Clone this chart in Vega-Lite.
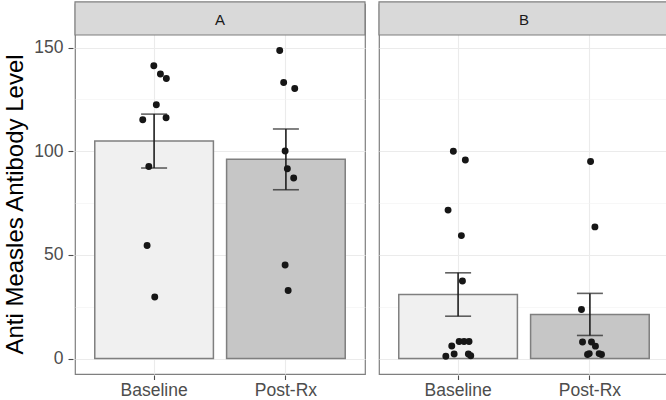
{
  "$schema": "https://vega.github.io/schema/vega-lite/v6.json",
  "background": "white",
  "padding": {"left": 3, "top": 0, "right": 0, "bottom": 0},
  "data": {"values": [
    {"group": "A", "time": "Baseline", "level": 141.2, "jit": -0.002},
    {"group": "A", "time": "Baseline", "level": 137.2, "jit": 0.048},
    {"group": "A", "time": "Baseline", "level": 135.1, "jit": 0.093},
    {"group": "A", "time": "Baseline", "level": 122.4, "jit": 0.017},
    {"group": "A", "time": "Baseline", "level": 115.2, "jit": -0.086},
    {"group": "A", "time": "Baseline", "level": 116.1, "jit": 0.091},
    {"group": "A", "time": "Baseline", "level": 92.6, "jit": -0.04},
    {"group": "A", "time": "Baseline", "level": 54.5, "jit": -0.053},
    {"group": "A", "time": "Baseline", "level": 29.7, "jit": 0.005},
    {"group": "A", "time": "Post-Rx", "level": 148.6, "jit": -0.047},
    {"group": "A", "time": "Post-Rx", "level": 133.1, "jit": -0.017},
    {"group": "A", "time": "Post-Rx", "level": 130.2, "jit": 0.067},
    {"group": "A", "time": "Post-Rx", "level": 100.1, "jit": -0.006},
    {"group": "A", "time": "Post-Rx", "level": 91.5, "jit": 0.011},
    {"group": "A", "time": "Post-Rx", "level": 87.1, "jit": 0.059},
    {"group": "A", "time": "Post-Rx", "level": 45.1, "jit": -0.006},
    {"group": "A", "time": "Post-Rx", "level": 32.8, "jit": 0.017},
    {"group": "B", "time": "Baseline", "level": 100.0, "jit": -0.036},
    {"group": "B", "time": "Baseline", "level": 95.8, "jit": 0.055},
    {"group": "B", "time": "Baseline", "level": 71.6, "jit": -0.076},
    {"group": "B", "time": "Baseline", "level": 59.3, "jit": 0.025},
    {"group": "B", "time": "Baseline", "level": 37.4, "jit": 0.033},
    {"group": "B", "time": "Baseline", "level": 8.2, "jit": 0.008},
    {"group": "B", "time": "Baseline", "level": 8.2, "jit": 0.045},
    {"group": "B", "time": "Baseline", "level": 8.2, "jit": 0.083},
    {"group": "B", "time": "Baseline", "level": 6.1, "jit": -0.048},
    {"group": "B", "time": "Baseline", "level": 2.2, "jit": -0.03},
    {"group": "B", "time": "Baseline", "level": 1.1, "jit": -0.093},
    {"group": "B", "time": "Baseline", "level": 2.2, "jit": 0.078},
    {"group": "B", "time": "Baseline", "level": 1.4, "jit": 0.096},
    {"group": "B", "time": "Post-Rx", "level": 95.0, "jit": 0.005},
    {"group": "B", "time": "Post-Rx", "level": 63.5, "jit": 0.038},
    {"group": "B", "time": "Post-Rx", "level": 23.7, "jit": -0.064},
    {"group": "B", "time": "Post-Rx", "level": 8.0, "jit": -0.056},
    {"group": "B", "time": "Post-Rx", "level": 8.0, "jit": 0.012},
    {"group": "B", "time": "Post-Rx", "level": 6.0, "jit": 0.042},
    {"group": "B", "time": "Post-Rx", "level": 2.0, "jit": -0.018},
    {"group": "B", "time": "Post-Rx", "level": 2.0, "jit": 0.088},
    {"group": "B", "time": "Post-Rx", "level": 2.4, "jit": -0.005},
    {"group": "B", "time": "Post-Rx", "level": 2.4, "jit": 0.07}
  ]},
  "facet": {"column": {"field": "group", "type": "nominal", "header": null}},
  "spacing": 10,
  "spec": {
    "width": 290,
    "height": 370,
    "resolve": {"scale": {"xOffset": "independent"}},
    "layer": [
      {
        "mark": {"type": "bar", "stroke": "#7F7F7F", "strokeWidth": 1.5},
        "encoding": {
          "x": {"field": "time", "type": "nominal", "title": null,
                "scale": {"paddingInner": 0.1, "paddingOuter": 0.15},
                "axis": {"grid": true, "bandPosition": 0.5, "labelAngle": 0, "gridWidth": 1.1, "tickSize": 4.5, "labelPadding": 2}},
          "y": {"aggregate": "mean", "field": "level", "type": "quantitative", "title": "Anti Measles Antibody Level",
                "scale": {"domain": [-7.43, 170.98], "nice": false, "zero": false},
                "axis": {
                  "values": [0, 25, 50, 75, 100, 125, 150],
                  "labelExpr": "datum.value % 50 === 0 ? datum.label : ''",
                  "tickOpacity": {"condition": {"test": "datum.value % 50 === 0", "value": 1}, "value": 0},
                  "gridWidth": {"condition": {"test": "datum.value % 50 === 0", "value": 1.1}, "value": 0.6},
                  "gridColor": {"condition": {"test": "datum.value % 50 === 0", "value": "#EBEBEB"}, "value": "#F2F2F2"},
                  "titlePadding": 6,
                  "titleFontSize": 24,
                  "titleY": 200,
                  "grid": true
                }},
          "fill": {"field": "time", "type": "nominal",
                   "scale": {"domain": ["Baseline", "Post-Rx"], "range": ["#F0F0F0", "#C6C6C6"]},
                   "legend": null}
        }
      },
      {
        "mark": {"type": "errorbar", "extent": "stderr", "color": "#1F1F1F", "thickness": 1.6, "ticks": {"size": 26}},
        "encoding": {
          "x": {"field": "time", "type": "nominal", "title": null},
          "y": {"field": "level", "type": "quantitative", "title": "Anti Measles Antibody Level"}
        }
      },
      {
        "mark": {"type": "circle", "size": 48, "color": "#161616", "opacity": 1},
        "encoding": {
          "x": {"field": "time", "type": "nominal", "title": null},
          "xOffset": {"field": "jit", "type": "quantitative", "scale": {"domain": [-0.45, 0.45]}},
          "y": {"field": "level", "type": "quantitative", "title": "Anti Measles Antibody Level"}
        }
      },
      {
        "transform": [{"aggregate": [{"op": "count", "as": "n"}], "groupby": ["group"]}],
        "mark": {"type": "rect", "fill": "#D9D9D9", "stroke": "#7F7F7F", "strokeWidth": 1.2},
        "encoding": {
          "y": {"datum": 156.03, "type": "quantitative", "title": "Anti Measles Antibody Level"},
          "y2": {"datum": 172}
        }
      },
      {
        "transform": [{"aggregate": [{"op": "count", "as": "n"}], "groupby": ["group"]}],
        "mark": {"type": "text", "fontSize": 15, "color": "#1A1A1A", "font": "Liberation Sans", "baseline": "middle", "align": "center"},
        "encoding": {
          "y": {"datum": 163.5, "type": "quantitative", "title": "Anti Measles Antibody Level"},
          "text": {"field": "group", "type": "nominal"}
        }
      }
    ]
  },
  "config": {
    "font": "Liberation Sans",
    "view": {"stroke": "#7F7F7F", "strokeWidth": 1.2},
    "axis": {
      "domain": false,
      "tickColor": "#4D4D4D",
      "tickSize": 5,
      "tickWidth": 1.1,
      "labelPadding": 5,
      "labelFontSize": 17.5,
      "labelColor": "#4D4D4D",
      "labelFont": "Liberation Sans",
      "gridColor": "#EBEBEB",
      "titleFont": "Liberation Sans",
      "titleFontWeight": "normal",
      "titleColor": "#000000"
    }
  }
}
